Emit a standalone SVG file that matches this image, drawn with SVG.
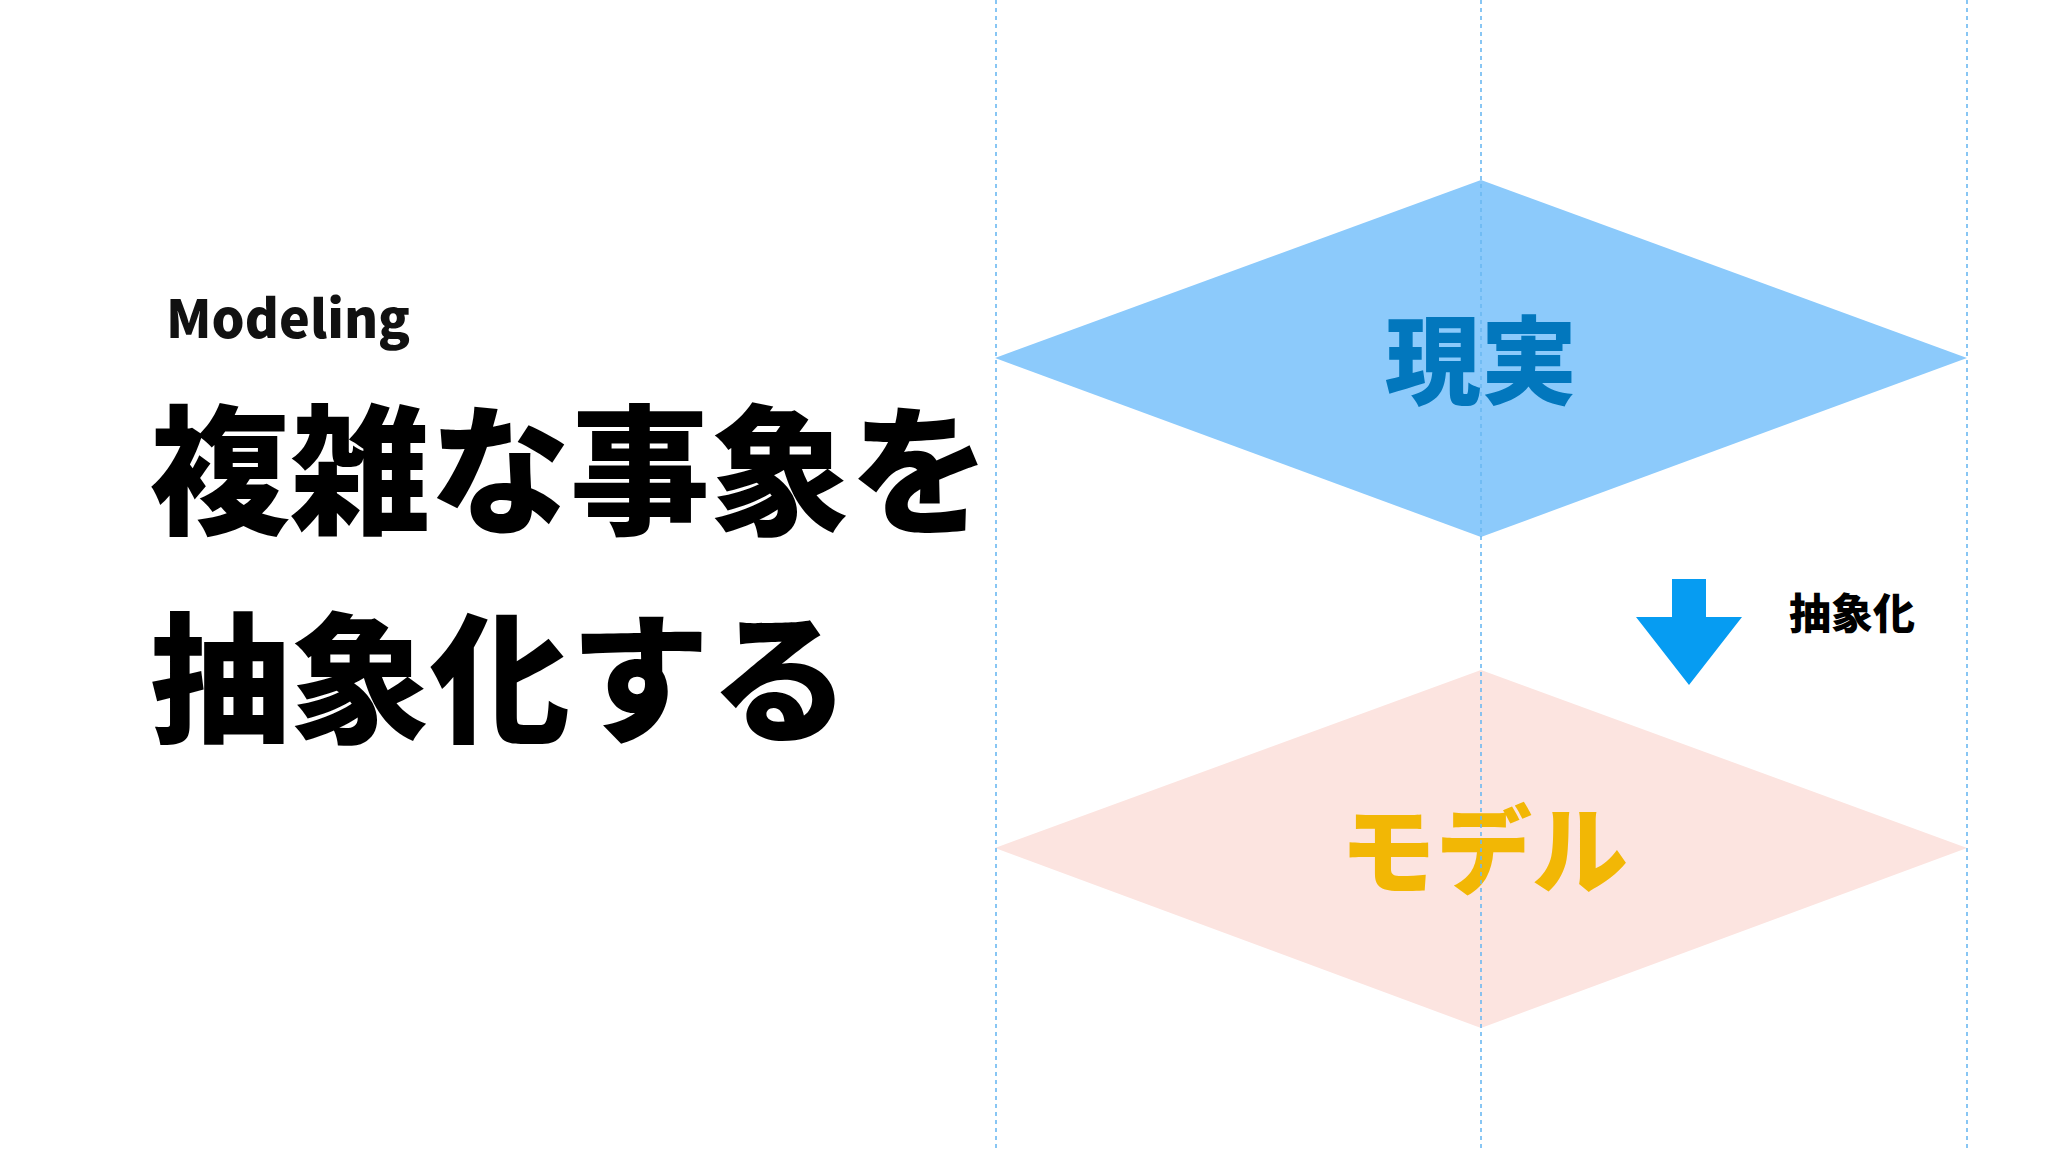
<svg xmlns="http://www.w3.org/2000/svg" width="2048" height="1152" viewBox="0 0 2048 1152">
<style>
.jp{font-family:"Noto Sans CJK JP","Noto Sans",sans-serif;font-weight:900}
.guide{stroke:#6BB8F2;stroke-width:1.6;stroke-dasharray:4 4;fill:none}
</style>
<rect width="2048" height="1152" fill="#FFFFFF"/>
<g id="heading">
<text x="166" y="338" class="jp" font-size="52" fill="#111111">Modeling</text>
<text x="150" y="523" class="jp" font-size="140" fill="#000000">複雑な事象を</text>
<text x="150" y="731" class="jp" font-size="140" fill="#000000">抽象化する</text>
</g>
<g id="reality">
<polygon points="1481,180 1967,358 1481,537 995,358" fill="#8CCAFB"/>
<text x="1481" y="396" class="jp" font-size="96" fill="#0277BD" text-anchor="middle">現実</text>
</g>
<g id="model">
<polygon points="1481,670 1967,848 1481,1028 995,848" fill="#FCE4E0"/>
<text x="1484" y="886" class="jp" font-size="96" fill="#F2B705" text-anchor="middle">モデル</text>
</g>
<g id="connectors">
<polygon points="1672,579 1706,579 1706,617 1742,617 1689,685 1636,617 1672,617" fill="#069CF2"/>
<text x="1789" y="629" class="jp" font-size="42" fill="#000000">抽象化</text>
</g>
<g id="guides">
<line x1="996" y1="0" x2="996" y2="1152" class="guide"/>
<line x1="1481" y1="0" x2="1481" y2="1152" class="guide"/>
<line x1="1967" y1="0" x2="1967" y2="1152" class="guide"/>
</g>
</svg>
